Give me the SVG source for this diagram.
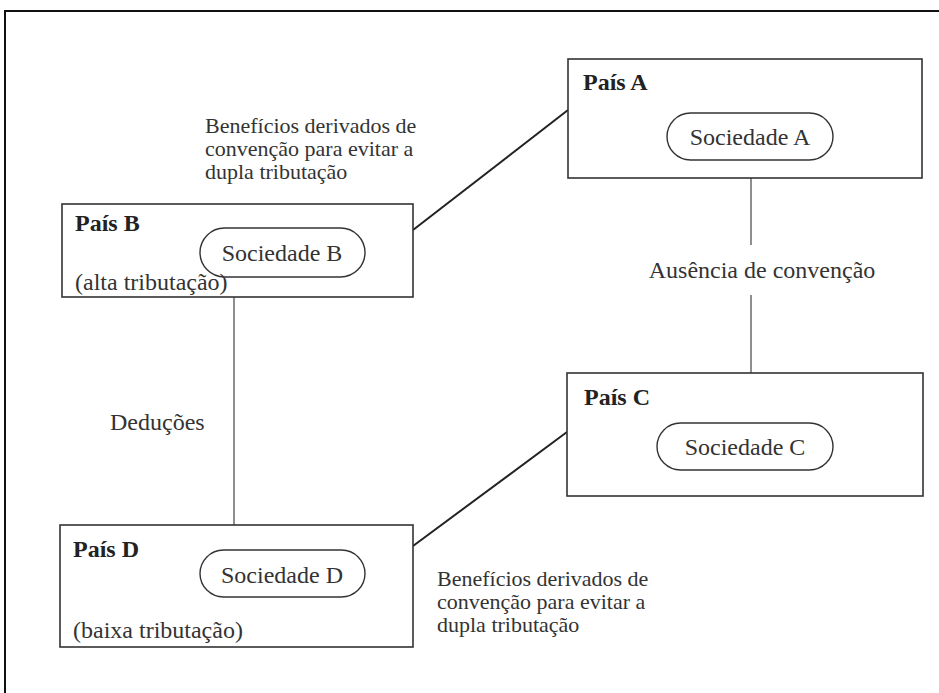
<svg xmlns="http://www.w3.org/2000/svg" width="939" height="693" viewBox="0 0 939 693">
  <style>
    .frame { fill: none; stroke: #111; stroke-width: 2; }
    .box { fill: #fff; stroke: #333; stroke-width: 1.6; }
    .soc { fill: #fff; stroke: #333; stroke-width: 1.4; }
    text { font-family: "Liberation Serif", "DejaVu Serif", "Times New Roman", serif; fill: #333; }
    .title { font-weight: bold; font-size: 24px; fill: #222; }
    .txt { font-size: 24px; }
    .note { font-size: 22px; }
    .mid { text-anchor: middle; }
    .diag { stroke: #222; stroke-width: 2; fill: none; }
    .vert { stroke: #444; stroke-width: 1.2; fill: none; }
  </style>
  <rect x="0" y="0" width="939" height="693" fill="#fff"/>
  <!-- outer frame, open to the right and bottom edge -->
  <path class="frame" d="M5,700 V11 H945"/>

  <g id="connectors">
    <line class="diag" x1="413" y1="230" x2="568" y2="110"/>
    <line class="diag" x1="413" y1="546" x2="567" y2="432"/>
    <line class="vert" x1="751" y1="178" x2="751" y2="245"/>
    <line class="vert" x1="751" y1="295" x2="751" y2="373"/>
    <line class="vert" x1="234" y1="297" x2="234" y2="525"/>
    <text class="note" x="205" y="133">Benefícios derivados de</text>
    <text class="note" x="205" y="156">convenção para evitar a</text>
    <text class="note" x="205" y="179">dupla tributação</text>
    <text class="txt mid" x="762" y="278">Ausência de convenção</text>
    <text class="txt" x="110" y="430">Deduções</text>
    <text class="note" x="437" y="586">Benefícios derivados de</text>
    <text class="note" x="437" y="609">convenção para evitar a</text>
    <text class="note" x="437" y="632">dupla tributação</text>
  </g>

  <g id="pais-a">
    <rect class="box" x="568" y="59" width="354" height="119"/>
    <text class="title" x="583" y="90">País A</text>
    <rect class="soc" x="667" y="113" width="166" height="47" rx="23.5"/>
    <text class="txt mid" x="750" y="145">Sociedade A</text>
  </g>

  <g id="pais-b">
    <rect class="box" x="62" y="204" width="351" height="93"/>
    <text class="title" x="75" y="231">País B</text>
    <rect class="soc" x="200" y="228" width="165" height="49" rx="24.5"/>
    <text class="txt mid" x="282" y="261">Sociedade B</text>
    <text class="txt" x="75" y="290">(alta tributação)</text>
  </g>

  <g id="pais-c">
    <rect class="box" x="567" y="373" width="356" height="123"/>
    <text class="title" x="584" y="405">País C</text>
    <rect class="soc" x="657" y="423" width="176" height="47" rx="23.5"/>
    <text class="txt mid" x="745" y="455">Sociedade C</text>
  </g>

  <g id="pais-d">
    <rect class="box" x="60" y="525" width="353" height="122"/>
    <text class="title" x="73" y="557">País D</text>
    <rect class="soc" x="200" y="550" width="165" height="47" rx="23.5"/>
    <text class="txt mid" x="282" y="583">Sociedade D</text>
    <text class="txt" x="73" y="638">(baixa tributação)</text>
  </g>
</svg>
